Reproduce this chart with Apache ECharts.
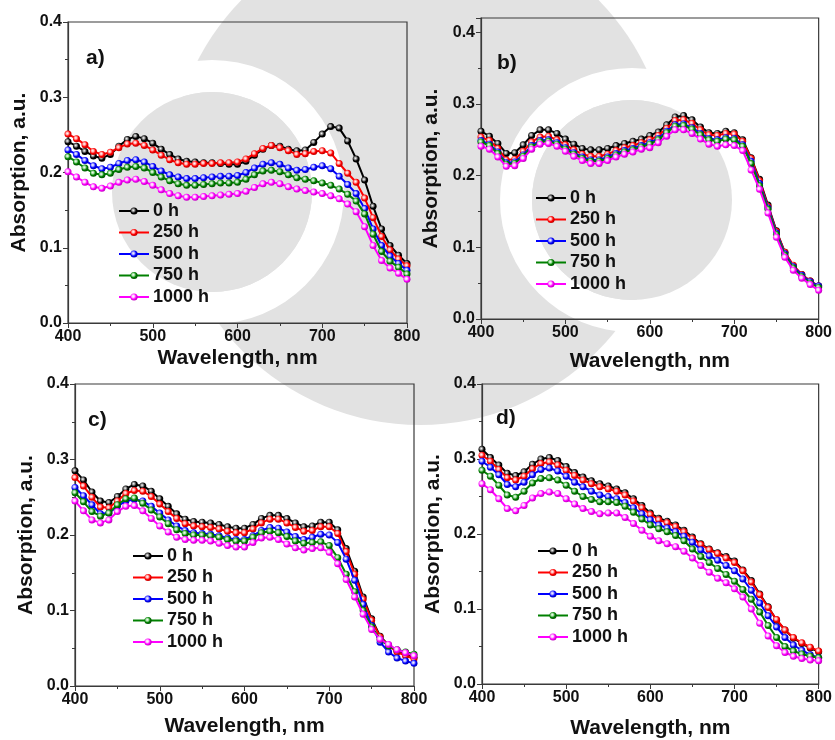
<!DOCTYPE html>
<html><head><meta charset="utf-8">
<script src="https://cdn.jsdelivr.net/npm/echarts@6/dist/echarts.min.js"></script>
<style>html,body{margin:0;padding:0;background:#fff}#c{width:835px;height:740px}</style>
</head><body><div id="c"></div>
<script>
const wavelengths = [400,410,420,430,440,450,460,470,480,490,500,510,520,530,540,550,560,570,580,590,600,610,620,630,640,650,660,670,680,690,700,710,720,730,740,750,760,770,780,790,800];
const seriesNames = ['0 h','250 h','500 h','750 h','1000 h'];
const panelLabels = ['a)','b)','c)','d)'];
const xTickLabels = [400,500,600,700,800];
const yTickLabels = [0.0,0.1,0.2,0.3,0.4];

const a0 = [0.241,0.235,0.228,0.222,0.219,0.224,0.235,0.244,0.248,0.245, 0.239,0.231,0.224,0.218,0.215,0.214,0.213,0.213,0.212,0.211, 0.211,0.215,0.223,0.231,0.236,0.235,0.231,0.229,0.230,0.240, 0.251,0.261,0.259,0.242,0.218,0.190,0.155,0.125,0.103,0.090, 0.079];
const a250 = [0.251,0.245,0.237,0.228,0.224,0.227,0.233,0.238,0.239,0.236, 0.230,0.223,0.217,0.213,0.211,0.211,0.212,0.212,0.213,0.213, 0.214,0.218,0.225,0.232,0.236,0.233,0.229,0.224,0.225,0.228, 0.229,0.226,0.212,0.199,0.187,0.166,0.140,0.115,0.097,0.085, 0.076];
const a500 = [0.230,0.224,0.216,0.209,0.205,0.207,0.212,0.216,0.217,0.214, 0.208,0.202,0.197,0.194,0.192,0.192,0.193,0.194,0.195,0.195, 0.196,0.200,0.206,0.211,0.213,0.211,0.206,0.203,0.204,0.207, 0.209,0.205,0.195,0.184,0.172,0.152,0.125,0.103,0.089,0.079, 0.070];
const a750 = [0.221,0.214,0.206,0.199,0.197,0.199,0.204,0.207,0.208,0.206, 0.200,0.194,0.189,0.185,0.183,0.183,0.184,0.185,0.186,0.186, 0.187,0.191,0.197,0.202,0.203,0.201,0.197,0.193,0.191,0.189, 0.186,0.183,0.178,0.171,0.162,0.145,0.118,0.095,0.082,0.074, 0.065];
const a1000 = [0.201,0.194,0.187,0.181,0.179,0.182,0.187,0.190,0.191,0.188, 0.183,0.177,0.172,0.169,0.167,0.167,0.168,0.169,0.170,0.171, 0.172,0.175,0.180,0.185,0.187,0.185,0.181,0.178,0.176,0.174, 0.172,0.169,0.165,0.158,0.148,0.128,0.103,0.083,0.073,0.066, 0.058];

const b0 = [0.262,0.255,0.245,0.231,0.232,0.243,0.256,0.264,0.264,0.259, 0.251,0.244,0.238,0.236,0.236,0.238,0.242,0.245,0.248,0.251, 0.256,0.261,0.271,0.282,0.284,0.278,0.268,0.260,0.259,0.262, 0.260,0.250,0.225,0.195,0.159,0.123,0.093,0.074,0.062,0.053, 0.046];
const b250 = [0.254,0.249,0.238,0.222,0.223,0.234,0.247,0.254,0.255,0.250, 0.243,0.236,0.230,0.227,0.227,0.230,0.235,0.239,0.242,0.246, 0.250,0.256,0.266,0.277,0.278,0.273,0.264,0.257,0.256,0.259, 0.258,0.248,0.224,0.193,0.157,0.122,0.093,0.075,0.062,0.053, 0.046];
const b500 = [0.249,0.244,0.233,0.218,0.219,0.229,0.242,0.249,0.250,0.246, 0.239,0.232,0.226,0.222,0.222,0.226,0.231,0.235,0.238,0.242, 0.246,0.252,0.262,0.271,0.272,0.267,0.259,0.252,0.250,0.253, 0.252,0.243,0.220,0.189,0.155,0.120,0.091,0.073,0.061,0.052, 0.046];
const b750 = [0.247,0.242,0.231,0.216,0.217,0.227,0.240,0.247,0.248,0.244, 0.237,0.230,0.224,0.220,0.220,0.224,0.229,0.233,0.236,0.240, 0.244,0.250,0.260,0.269,0.270,0.265,0.257,0.250,0.248,0.251, 0.250,0.241,0.217,0.186,0.153,0.118,0.089,0.071,0.059,0.050, 0.044];
const b1000 = [0.241,0.237,0.226,0.213,0.214,0.224,0.237,0.244,0.245,0.241, 0.234,0.227,0.221,0.217,0.217,0.221,0.226,0.230,0.233,0.237, 0.239,0.246,0.255,0.264,0.264,0.259,0.251,0.244,0.241,0.243, 0.242,0.235,0.208,0.181,0.148,0.114,0.086,0.068,0.057,0.048, 0.040];

const c0 = [0.285,0.273,0.257,0.245,0.243,0.251,0.261,0.267,0.265,0.258, 0.248,0.238,0.228,0.221,0.218,0.217,0.216,0.214,0.211,0.209, 0.209,0.214,0.222,0.226,0.226,0.222,0.216,0.211,0.212,0.217, 0.217,0.207,0.182,0.152,0.118,0.089,0.066,0.054,0.046,0.042, 0.038];
const c250 = [0.276,0.265,0.250,0.237,0.236,0.245,0.255,0.259,0.258,0.251, 0.241,0.231,0.222,0.215,0.212,0.211,0.210,0.208,0.205,0.203, 0.203,0.208,0.216,0.221,0.221,0.216,0.210,0.205,0.206,0.211, 0.211,0.202,0.178,0.148,0.115,0.087,0.065,0.053,0.045,0.040, 0.036];
const c500 = [0.263,0.252,0.240,0.228,0.229,0.238,0.245,0.247,0.245,0.238, 0.229,0.220,0.212,0.206,0.203,0.202,0.201,0.199,0.196,0.194, 0.194,0.199,0.206,0.210,0.209,0.204,0.198,0.194,0.197,0.201, 0.200,0.190,0.168,0.140,0.108,0.080,0.058,0.045,0.037,0.033, 0.030];
const c750 = [0.256,0.244,0.231,0.225,0.229,0.240,0.248,0.249,0.242,0.233, 0.224,0.215,0.207,0.202,0.200,0.200,0.199,0.197,0.194,0.192, 0.192,0.197,0.203,0.205,0.203,0.198,0.192,0.189,0.190,0.191, 0.186,0.170,0.148,0.125,0.100,0.078,0.062,0.053,0.048,0.045, 0.042];
const c1000 = [0.245,0.232,0.220,0.216,0.220,0.231,0.238,0.239,0.232,0.222, 0.212,0.204,0.197,0.194,0.193,0.193,0.192,0.189,0.186,0.184, 0.184,0.190,0.196,0.197,0.194,0.188,0.183,0.180,0.182,0.183, 0.177,0.162,0.141,0.118,0.095,0.075,0.062,0.055,0.048,0.044, 0.040];

const d0 = [0.313,0.302,0.292,0.281,0.278,0.283,0.293,0.300,0.302,0.298, 0.290,0.282,0.276,0.271,0.267,0.264,0.260,0.255,0.247,0.238, 0.228,0.221,0.217,0.212,0.205,0.196,0.187,0.180,0.175,0.170, 0.164,0.152,0.138,0.120,0.103,0.085,0.072,0.061,0.054,0.048, 0.043];
const d250 = [0.305,0.297,0.286,0.275,0.272,0.277,0.287,0.294,0.296,0.292, 0.285,0.278,0.272,0.267,0.263,0.260,0.257,0.252,0.244,0.235, 0.226,0.219,0.215,0.210,0.203,0.194,0.186,0.179,0.174,0.168, 0.162,0.151,0.136,0.119,0.102,0.086,0.072,0.062,0.055,0.049, 0.044];
const d500 = [0.297,0.289,0.279,0.266,0.263,0.269,0.279,0.286,0.288,0.284, 0.277,0.269,0.263,0.257,0.252,0.250,0.247,0.242,0.235,0.227, 0.219,0.212,0.208,0.203,0.197,0.189,0.179,0.171,0.165,0.158, 0.151,0.140,0.125,0.108,0.091,0.076,0.062,0.052,0.045,0.039, 0.035];
const d750 = [0.285,0.277,0.265,0.252,0.249,0.257,0.268,0.274,0.275,0.272, 0.265,0.257,0.250,0.246,0.243,0.243,0.242,0.237,0.229,0.220, 0.212,0.207,0.203,0.198,0.191,0.180,0.170,0.162,0.154,0.146, 0.137,0.126,0.113,0.096,0.078,0.062,0.050,0.044,0.040,0.037, 0.035];
const d1000 = [0.267,0.259,0.247,0.234,0.231,0.238,0.248,0.254,0.256,0.254, 0.247,0.240,0.234,0.230,0.227,0.228,0.228,0.222,0.214,0.205, 0.197,0.191,0.187,0.183,0.177,0.168,0.158,0.149,0.141,0.135, 0.127,0.116,0.100,0.081,0.064,0.051,0.042,0.037,0.034,0.032, 0.031];

const panels = [
  [a0,a250,a500,a750,a1000],
  [b0,b250,b500,b750,b1000],
  [c0,c250,c500,c750,c1000],
  [d0,d250,d500,d750,d1000]
];
const colors = ['#000000','#ff0000','#0000ff','#008000','#ff00ff'];
const hiColors = ['#9a9a9a','#ffb0b0','#b0b0ff','#a8e0a8','#ffc8ff'];
const darkColors = ['#000000','#c00000','#0000b0','#005000','#c000c0'];

// layout (px)
const grids = [
  {left:68, top:22, width:339, height:301, ymax:0.4, xGap:25, yGap:38, lab:[86,48], leg:[118,202]},
  {left:481, top:18, width:338, height:301, ymax:0.42, xGap:32, yGap:39, lab:[497,53], leg:[535,189]},
  {left:75, top:384, width:339, height:302, ymax:0.4, xGap:30, yGap:38, lab:[88,410], leg:[132,547]},
  {left:482, top:384, width:339, height:302, ymax:0.4, xGap:34, yGap:38, lab:[496,408], leg:[537,542]}
];
const FONT = 'Liberation Sans, Arial, sans-serif';
const WM = '#e2e2e2';

// faint background watermark (decorative)
const watermark = [
  {type:'circle', shape:{cx:420, cy:175, r:250}, style:{fill:WM}, z:-10, silent:true},
  {type:'ring', shape:{cx:212, cy:192, r:132, r0:100}, style:{fill:'#ffffff'}, z:-9, silent:true},
  {type:'ring', shape:{cx:632, cy:200, r:132, r0:100}, style:{fill:'#ffffff'}, z:-9, silent:true},
  {type:'circle', shape:{cx:212, cy:192, r:100}, style:{fill:WM}, z:-8, silent:true},
  {type:'circle', shape:{cx:632, cy:200, r:100}, style:{fill:WM}, z:-8, silent:true}
];

const option = {
  backgroundColor:'#ffffff',
  animation:false,
  grid: grids.map(g=>({left:g.left, top:g.top, width:g.width, height:g.height, show:true, borderColor:'#3a3a3a', borderWidth:1.2, backgroundColor:'transparent'})),
  xAxis: grids.map((g,i)=>({
    type:'value', gridIndex:i, min:400, max:800, interval:100,
    name:'Wavelength, nm', nameLocation:'middle', nameGap:g.xGap,
    nameTextStyle:{fontFamily:FONT, fontWeight:'bold', fontSize:21, color:'#111'},
    axisLine:{show:true, lineStyle:{color:'#3a3a3a', width:1.2}},
    axisTick:{show:true, inside:false, length:5, lineStyle:{color:'#3a3a3a'}},
    minorTick:{show:true, splitNumber:2, length:3, lineStyle:{color:'#3a3a3a'}},
    splitLine:{show:false},
    axisLabel:{fontFamily:FONT, fontWeight:'bold', fontSize:16, color:'#111', margin:6,
      formatter:v=> xTickLabels.indexOf(v)>=0 ? String(v) : ''}
  })),
  yAxis: grids.map((g,i)=>({
    type:'value', gridIndex:i, min:0, max:g.ymax, interval:0.1,
    name:'Absorption, a.u.', nameLocation:'middle', nameGap:g.yGap, nameRotate:90,
    nameTextStyle:{fontFamily:FONT, fontWeight:'bold', fontSize:21, color:'#111'},
    axisLine:{show:true, lineStyle:{color:'#3a3a3a', width:1.2}},
    axisTick:{show:true, inside:false, length:5, lineStyle:{color:'#3a3a3a'}},
    minorTick:{show:true, splitNumber:2, length:3, lineStyle:{color:'#3a3a3a'}},
    splitLine:{show:false},
    axisLabel:{fontFamily:FONT, fontWeight:'bold', fontSize:16, color:'#111', margin:6,
      formatter:v=>{ const r = Math.round(v*10)/10; return (Math.abs(v-r)<1e-6 && yTickLabels.indexOf(r)>=0) ? r.toFixed(1) : ''; }}
  })),
  legend: grids.map((g,i)=>({
    data: seriesNames, orient:'vertical', left:g.leg[0], top:g.leg[1],
    itemWidth:30, itemHeight:9, itemGap:3.5, selectedMode:false,
    textStyle:{fontFamily:FONT, fontWeight:'bold', fontSize:18, color:'#111', lineHeight:18, padding:[0,0,0,-1]},
    padding:0
  })),
  graphic: watermark.concat(grids.map((g,i)=>({
    type:'text', left:g.lab[0], top:g.lab[1],
    style:{text:panelLabels[i], font:'bold 21px '+FONT, fill:'#111'}
  }))),
  series: []
};

panels.forEach((sets,p)=>{
  sets.forEach((vals,k)=>{
    option.series.push({
      type:'line', name:seriesNames[k], xAxisIndex:p, yAxisIndex:p,
      data: wavelengths.map((w,j)=>[w, vals[j]]),
      symbol:'circle', symbolSize:7, showSymbol:true,
      lineStyle:{color:colors[k], width:2},
      itemStyle:{
        color:{type:'radial', x:0.4, y:0.4, r:0.6, colorStops:[
          {offset:0, color:'#ffffff'},
          {offset:0.3, color:hiColors[k]},
          {offset:0.65, color:colors[k]},
          {offset:1, color:darkColors[k]}]},
        borderWidth:0
      },
      emphasis:{disabled:true},
      z: 2+k
    });
  });
});

const chart = echarts.init(document.getElementById('c'), null, {renderer:'canvas'});
chart.setOption(option);
</script>
</body></html>
